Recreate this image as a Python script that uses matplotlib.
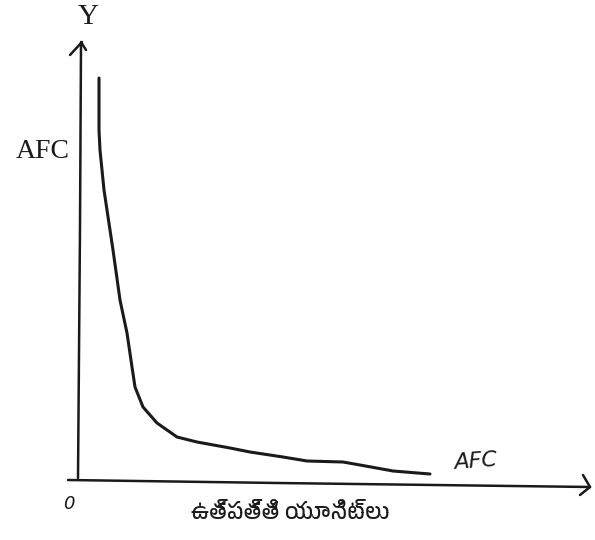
import matplotlib
matplotlib.use("Agg")
import matplotlib.pyplot as plt
from matplotlib import font_manager as fm

# AFC curve values (output units, cost)
output_units = [21, 21, 21, 22, 24, 26, 29, 32, 35, 42, 49, 54, 57, 65, 79, 99,
                119, 152, 172, 205, 229, 265, 282, 315, 352]
afc_values = [400, 378, 348, 328, 308, 288, 268, 248, 228, 178, 145, 111, 91, 71,
              55, 41, 36, 30, 26, 21, 17, 16, 13, 7, 4]

y_axis_label = "Y"
y_side_label = "AFC"
curve_label = "AFC"
origin_label = "0"
x_axis_label = "ఉత్పత్తి యూనిట్లు"

# find a font with Telugu glyphs if any
telugu_fams = []
for f in fm.fontManager.ttflist:
    if "telugu" in f.name.lower() or "telugu" in f.fname.lower():
        telugu_fams.append(f.name)
label_family = (telugu_fams[:1] + ["Noto Sans", "DejaVu Sans"])

fig = plt.figure(figsize=(5.95, 5.4), dpi=100)
ax = fig.add_axes([0, 0, 1, 1])
ax.set_xlim(-78, 517)
ax.set_ylim(-62, 478)
ax.axis("off")

ink = "#1a1a1a"
# axes lines (hand-drawn look)
ax.plot([0, 2, 3], [0, 250, 434], color=ink, lw=1.8, solid_capstyle="round")
ax.plot([-8, 4], [423, 436], color=ink, lw=1.8, solid_capstyle="round")
ax.plot([3, 8], [436, 428], color=ink, lw=1.8, solid_capstyle="round")
ax.plot([-10, 200, 512], [-2, -5, -9], color=ink, lw=1.8, solid_capstyle="round")
ax.plot([505, 512], [3, -9], color=ink, lw=1.8, solid_capstyle="round")
ax.plot([512, 502], [-9, -17], color=ink, lw=1.8, solid_capstyle="round")

# AFC curve
ax.plot(output_units, afc_values, color=ink, lw=2.2, solid_capstyle="round",
        solid_joinstyle="round")

ax.text(10, 454, y_axis_label, fontsize=21, family="Liberation Serif",
        ha="center", va="baseline", color=ink)
ax.text(-8, 320, y_side_label, fontsize=20, family="Liberation Serif",
        ha="right", va="baseline", color=ink)
ax.text(397, 9, curve_label, fontsize=16, family="DejaVu Sans", style="italic",
        ha="center", va="baseline", color=ink, rotation=4)
ax.text(-9, -31, origin_label, fontsize=13, family="DejaVu Sans", style="italic",
        ha="center", va="baseline", color=ink)
ax.text(212, -35, x_axis_label, fontsize=16, family=label_family,
        ha="center", va="center", color=ink)

fig.savefig("out.png", dpi=100, facecolor="white")
